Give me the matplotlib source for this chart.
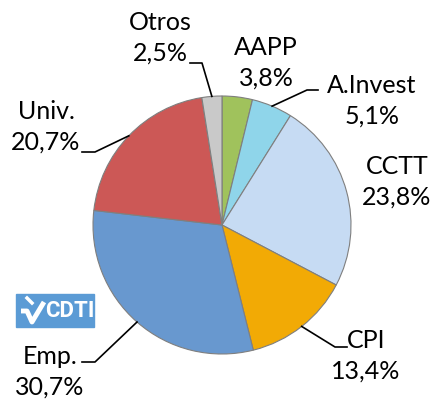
import numpy as np
import matplotlib
matplotlib.use("Agg")
import matplotlib.pyplot as plt
from matplotlib.patches import Rectangle

# shares of the pie, clockwise from 12 o'clock
labels = ["AAPP", "A.Invest", "CCTT", "CPI", "Emp.", "Univ.", "Otros"]
values = [3.8, 5.1, 23.8, 13.4, 30.7, 20.7, 2.5]
pct_text = ["3,8%", "5,1%", "23,8%", "13,4%", "30,7%", "20,7%", "2,5%"]
colors = ["#a0c25c", "#8fd5ea", "#c6dbf3", "#f2aa05", "#6898cf", "#cc5856", "#c9c9c9"]

plt.rcParams["font.family"] = ["Lato", "DejaVu Sans"]

W, H = 435, 400
fig = plt.figure(figsize=(4.35, 4.0), dpi=100)
ax = fig.add_axes([0, 0, 1, 1])

cx, cy, r = 222, H - 225, 129
wedges, _ = ax.pie(values, colors=colors, startangle=90, counterclock=False,
                   center=(cx, cy), radius=r, frame=True,
                   wedgeprops=dict(edgecolor="#7f7f7f", linewidth=0.8))
ax.set_xlim(0, W)
ax.set_ylim(0, H)
ax.set_aspect("equal")
ax.axis("off")

# label text centre (pixel coords, y down) and leader elbow / end
label_pos = {
    "AAPP": (266, 63),
    "A.Invest": (372, 101),
    "CCTT": (397, 182),
    "CPI": (366, 356),
    "Emp.": (50, 372),
    "Univ.": (46, 127),
    "Otros": (160, 38),
}
leaders = {
    "A.Invest": [(307, 90), (318, 90)],
    "CPI": [(335, 347), (347, 347)],
    "Emp.": [(95, 362), (82, 362)],
    "Univ.": [(95, 152), (82, 152)],
    "Otros": [(202, 63), (190, 63)],
}

for w, lab, pt in zip(wedges, labels, pct_text):
    tx, ty = label_pos[lab]
    ax.text(tx, H - ty, lab + "\n" + pt, ha="center", va="center",
            fontsize=18, linespacing=1.38, color="#000000")
    if lab in leaders:
        mid = np.deg2rad((w.theta1 + w.theta2) / 2)
        pts = [(cx + r * np.cos(mid), cy + r * np.sin(mid))]
        pts += [(x, H - y) for x, y in leaders[lab]]
        xs, ys = zip(*pts)
        ax.plot(xs, ys, color="black", lw=1.2)

# CDTI logo box
ax.add_patch(Rectangle((16, H - 327), 78, 33, color="#5b9bd5", zorder=5))
ax.plot([21, 27, 32, 44], [H - 311, H - 311, H - 322, H - 302],
        color="white", lw=3.5, solid_capstyle="butt", zorder=6)
ax.plot([27, 32], [H - 298, H - 303], color="white", lw=2.5, zorder=6)
ax.text(70, H - 311, "CDTI", color="white", fontsize=16, fontweight="bold",
        ha="center", va="center", family=["Roboto", "DejaVu Sans"], zorder=6)

fig.savefig("out.png", dpi=100)
